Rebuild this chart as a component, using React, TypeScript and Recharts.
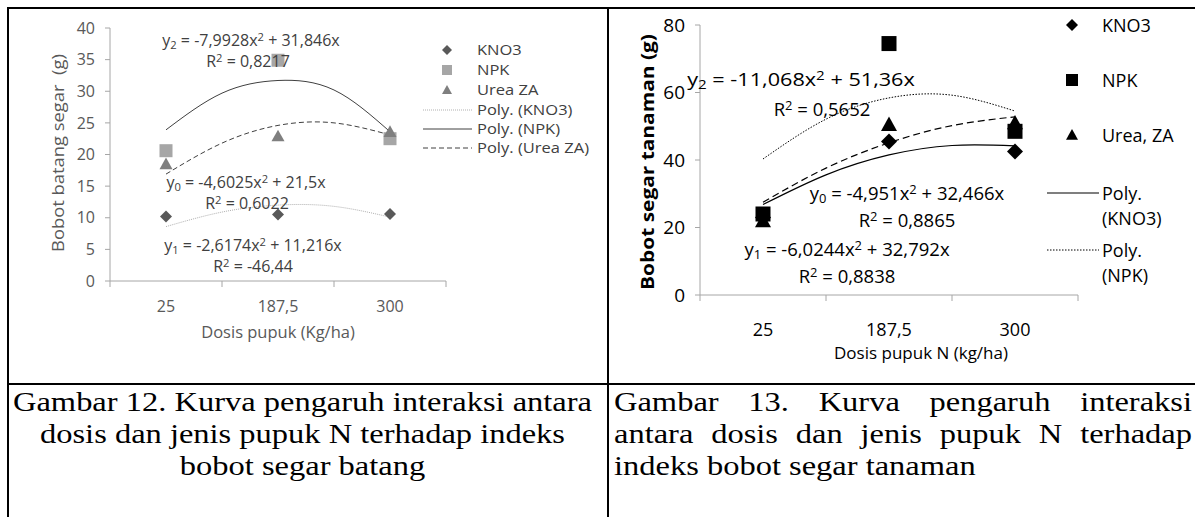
import React from 'react';
import { ComposedChart, Scatter, Line, XAxis, YAxis } from 'recharts';

// posisi kategori dosis (1..3) dan label sumbu X
const dosisPos = [1, 2, 3];
const dosisLabel = ['25', '187,5', '300'];
const trendPos = [1, 1.5, 2, 2.5, 3];

// Gambar 12 - bobot segar batang
const g12Kno3 = [10.2, 10.5, 10.6];
const g12Npk = [20.6, 34.9, 22.5];
const g12Urea = [18.5, 22.9, 23.6];
const g12Kno3Trend = [8.6, 10.9, 12.0, 11.8, 10.1];
const g12NpkTrend = [23.9, 29.7, 31.7, 30.2, 23.6];
const g12UreaTrend = [16.9, 21.8, 24.6, 25.0, 23.1];
const g12YTicks = [0, 5, 10, 15, 20, 25, 30, 35, 40];

// Gambar 13 - bobot segar tanaman
const g13Kno3 = [23, 45.5, 42.5];
const g13Npk = [24, 74.5, 48.5];
const g13Urea = [22, 50.5, 51];
const g13Kno3Trend = [26.8, 35.6, 41.5, 44.3, 44.2];
const g13NpkTrend = [40.3, 52.1, 58.4, 59.2, 54.5];
const g13UreaTrend = [27.5, 37.6, 45.1, 50.2, 52.8];
const g13YTicks = [0, 20, 40, 60, 80];

const xTicks = [0.5, 1, 1.5, 2, 2.5, 3, 3.5];

const pts = (vals: number[]) => vals.map((y, i) => ({ x: dosisPos[i], y }));
const trend = (vals: number[]) => vals.map((y, i) => ({ x: trendPos[i], y }));

const AXIS = '#a6a6a6';
const FONT = "'Open Sans', sans-serif";
const CAP_SX = 1.16;

const diamond = (r: number, fill: string) => (p: any) => (
  <polygon points={`${p.cx},${p.cy - r} ${p.cx + r},${p.cy} ${p.cx},${p.cy + r} ${p.cx - r},${p.cy}`} fill={fill} />
);
const square = (r: number, fill: string) => (p: any) => (
  <rect x={p.cx - r} y={p.cy - r} width={r * 2} height={r * 2} fill={fill} />
);
const triangle = (r: number, fill: string) => (p: any) => (
  <polygon points={`${p.cx},${p.cy - r} ${p.cx + r},${p.cy + r * 0.8} ${p.cx - r},${p.cy + r * 0.8}`} fill={fill} />
);

// label kategori di tengah, garis tick di antara kategori (gaya Excel)
const makeXTick = (size: number, color: string, dy: number) => (props: any) => {
  const { x, y, payload } = props;
  const v = payload.value;
  if (v % 1 !== 0) return <line x1={x} x2={x} y1={y} y2={y + 6} stroke={AXIS} />;
  return (
    <text x={x} y={y + dy} textAnchor="middle" fontSize={size} fill={color} fontFamily={FONT}>
      {dosisLabel[v - 1]}
    </text>
  );
};

function Txt({ x, y, size, children, anchor = 'middle', color = '#000', sx = 1 }: any) {
  return (
    <div
      style={{
        position: 'absolute',
        left: x,
        top: y - size * 0.52,
        transform: anchor === 'middle' ? `translateX(-50%) scaleX(${sx})` : `scaleX(${sx})`,
        transformOrigin: anchor === 'middle' ? 'center' : 'left center',
        fontSize: size,
        lineHeight: 1 + 'em',
        fontFamily: FONT,
        color,
        whiteSpace: 'nowrap',
      }}
    >
      {children}
    </div>
  );
}

function Legend({ items, x, size, sx = 1, color, lineX1, lineX2 }: any) {
  return (
    <>
      {items.map((it: any, i: number) => (
        <React.Fragment key={i}>
          <svg style={{ position: 'absolute', left: 0, top: 0, overflow: 'visible' }} width={1} height={1}>
            {it.kind === 'marker' ? it.shape({ cx: it.ix, cy: it.y }) : null}
            {it.kind === 'line' ? (
              <line x1={lineX1} x2={lineX2} y1={it.y} y2={it.y} stroke={it.stroke} strokeWidth={it.w || 1} strokeDasharray={it.dash} />
            ) : null}
          </svg>
          <Txt x={x} y={it.y} size={size} sx={sx} anchor="start" color={color}>{it.label}</Txt>
        </React.Fragment>
      ))}
    </>
  );
}

const sub = (d: string) => <sub style={{ fontSize: '0.7em', verticalAlign: '-0.25em', lineHeight: 0 }}>{d}</sub>;
const sup2 = <sup style={{ fontSize: '0.7em', verticalAlign: '0.45em', lineHeight: 0 }}>2</sup>;

// teks keterangan Times, sedikit melebar seperti di gambar asli
function CaptionLine({ text, x, w, top, align }: any) {
  return (
    <div
      style={{
        position: 'absolute',
        left: x,
        width: w / CAP_SX,
        top,
        fontFamily: "'Liberation Serif', serif",
        fontSize: 28,
        lineHeight: '34px',
        color: '#000',
        whiteSpace: 'nowrap',
        textAlign: align,
        textAlignLast: align,
        transform: `scaleX(${CAP_SX})`,
        transformOrigin: 'left top',
      }}
    >
      {text}
    </div>
  );
}

export default function App() {
  const leftColor = '#595959';
  const eqColor = '#404040';
  return (
    <div style={{ position: 'absolute', left: 0, top: 0, width: 1195, height: 517, background: '#fff', overflow: 'hidden' }}>
      {/* Gambar 12 */}
      <div style={{ position: 'absolute', left: 0, top: 0 }}>
        <ComposedChart width={605} height={384} margin={{ top: 28, right: 159, bottom: 73, left: 10 }}>
          <XAxis dataKey="x" type="number" domain={[0.5, 3.5]} ticks={xTicks} interval={0} tickSize={0} tickMargin={0}
            tickLine={false} axisLine={{ stroke: AXIS }} height={30} tick={makeXTick(16, leftColor, 31)} />
          <YAxis type="number" domain={[0, 40]} ticks={g12YTicks} interval={0} width={100} tickSize={5} tickMargin={10}
            tickLine={{ stroke: AXIS }} axisLine={{ stroke: AXIS }} tick={{ fontSize: 16, fill: leftColor, fontFamily: FONT }} />
          <Line data={trend(g12Kno3Trend)} dataKey="y" type="natural" stroke="#b0b0b0" strokeWidth={1} strokeDasharray="1 1" dot={false} isAnimationActive={false} />
          <Line data={trend(g12NpkTrend)} dataKey="y" type="natural" stroke="#404040" strokeWidth={1} dot={false} isAnimationActive={false} />
          <Line data={trend(g12UreaTrend)} dataKey="y" type="natural" stroke="#404040" strokeWidth={1} strokeDasharray="5 3" dot={false} isAnimationActive={false} />
          <Scatter data={pts(g12Kno3)} dataKey="y" shape={diamond(6, '#595959')} isAnimationActive={false} />
          <Scatter data={pts(g12Npk)} dataKey="y" shape={square(6.5, '#a6a6a6')} isAnimationActive={false} />
          <Scatter data={pts(g12Urea)} dataKey="y" shape={triangle(6.5, '#7f7f7f')} isAnimationActive={false} />
        </ComposedChart>
      </div>
      <div style={{ position: 'absolute', left: 57, top: 153, transform: 'translate(-50%, -50%) rotate(-90deg) scaleX(1.08)', fontSize: 17, fontFamily: FONT, color: leftColor, whiteSpace: 'pre' }}>
        Bobot batang segar  (g)
      </div>
      <Txt x={278} y={333} size={16.5} color={leftColor}>Dosis pupuk (Kg/ha)</Txt>
      <Txt x={251} y={40} size={16} color={eqColor}>y{sub('2')} = -7,9928x{sup2} + 31,846x</Txt>
      <Txt x={248} y={61} size={16} color={eqColor}>R{sup2} = 0,8217</Txt>
      <Txt x={246} y={182} size={16} color={eqColor}>y{sub('0')} = -4,6025x{sup2} + 21,5x</Txt>
      <Txt x={247} y={203} size={16} color={eqColor}>R{sup2} = 0,6022</Txt>
      <Txt x={253} y={245} size={16} color={eqColor}>y{sub('1')} = -2,6174x{sup2} + 11,216x</Txt>
      <Txt x={253} y={266} size={16} color={eqColor}>R{sup2} = -46,44</Txt>
      <Legend x={477} size={15} sx={1.1} color={eqColor} lineX1={423} lineX2={472}
        items={[
          { kind: 'marker', label: 'KNO3', y: 50, ix: 447, shape: diamond(5, '#595959') },
          { kind: 'marker', label: 'NPK', y: 70, ix: 447, shape: square(5, '#a6a6a6') },
          { kind: 'marker', label: 'Urea ZA', y: 90, ix: 447, shape: triangle(5, '#7f7f7f') },
          { kind: 'line', label: 'Poly. (KNO3)', y: 110, stroke: '#b0b0b0', dash: '1 1' },
          { kind: 'line', label: 'Poly. (NPK)', y: 129, stroke: '#404040' },
          { kind: 'line', label: 'Poly. (Urea ZA)', y: 148, stroke: '#404040', dash: '5 3' },
        ]} />

      {/* Gambar 13 */}
      <div style={{ position: 'absolute', left: 609, top: 0 }}>
        <ComposedChart width={586} height={384} margin={{ top: 25, right: 117, bottom: 59, left: 11 }}>
          <XAxis dataKey="x" type="number" domain={[0.5, 3.5]} ticks={xTicks} interval={0} tickSize={0} tickMargin={0}
            tickLine={false} axisLine={{ stroke: AXIS }} height={30} tick={makeXTick(18, '#000', 41)} />
          <YAxis type="number" domain={[0, 80]} ticks={g13YTicks} interval={0} width={80} tickSize={5} tickMargin={10}
            tickLine={{ stroke: AXIS }} axisLine={{ stroke: AXIS }} tick={{ fontSize: 19, fill: '#000', fontFamily: FONT }} />
          <Line data={trend(g13NpkTrend)} dataKey="y" type="natural" stroke="#000" strokeWidth={1} strokeDasharray="1.5 1.5" dot={false} isAnimationActive={false} />
          <Line data={trend(g13Kno3Trend)} dataKey="y" type="natural" stroke="#000" strokeWidth={1.2} dot={false} isAnimationActive={false} />
          <Line data={trend(g13UreaTrend)} dataKey="y" type="natural" stroke="#000" strokeWidth={1.2} strokeDasharray="7 4" dot={false} isAnimationActive={false} />
          <Scatter data={pts(g13Npk)} dataKey="y" shape={square(7.5, '#000')} isAnimationActive={false} />
          <Scatter data={pts(g13Urea)} dataKey="y" shape={triangle(8, '#000')} isAnimationActive={false} />
          <Scatter data={pts(g13Kno3)} dataKey="y" shape={diamond(8, '#000')} isAnimationActive={false} />
        </ComposedChart>
      </div>
      <div style={{ position: 'absolute', left: 647, top: 162, transform: 'translate(-50%, -50%) rotate(-90deg) scaleX(1.16)', fontSize: 18, fontWeight: 700, fontFamily: FONT, color: '#000', whiteSpace: 'nowrap' }}>
        Bobot segar tanaman (g)
      </div>
      <Txt x={921} y={353} size={17}>Dosis pupuk N (kg/ha)</Txt>
      <Txt x={801} y={80} size={18.5} sx={1.17}>y{sub('2')} = -11,068x{sup2} + 51,36x</Txt>
      <Txt x={822} y={110} size={18.5}>R{sup2} = 0,5652</Txt>
      <Txt x={907} y={194} size={18.5}>y{sub('0')} = -4,951x{sup2} + 32,466x</Txt>
      <Txt x={907} y={221} size={18.5}>R{sup2} = 0,8865</Txt>
      <Txt x={847} y={250} size={18.5}>y{sub('1')} = -6,0244x{sup2} + 32,792x</Txt>
      <Txt x={847} y={277} size={18.5}>R{sup2} = 0,8838</Txt>
      <Legend x={1102} size={18} color="#000" lineX1={1047} lineX2={1099}
        items={[
          { kind: 'marker', label: 'KNO3', y: 25, ix: 1072, shape: diamond(6, '#000') },
          { kind: 'marker', label: 'NPK', y: 80, ix: 1072, shape: square(6, '#000') },
          { kind: 'marker', label: 'Urea, ZA', y: 135, ix: 1072, shape: triangle(6, '#000') },
          { kind: 'line', label: 'Poly.', y: 193, stroke: '#000', w: 1.2 },
          { kind: 'none', label: '(KNO3)', y: 218 },
          { kind: 'line', label: 'Poly.', y: 250, stroke: '#000', dash: '1.5 1.5' },
          { kind: 'none', label: '(NPK)', y: 275 },
        ]} />

      {/* garis tabel */}
      <div style={{ position: 'absolute', left: 7, top: 7, width: 1188, height: 2, background: '#000' }} />
      <div style={{ position: 'absolute', left: 7, top: 7, width: 2, height: 510, background: '#000' }} />
      <div style={{ position: 'absolute', left: 607, top: 7, width: 2, height: 510, background: '#000' }} />
      <div style={{ position: 'absolute', left: 7, top: 383, width: 1188, height: 2, background: '#000' }} />

      {/* keterangan gambar */}
      <CaptionLine x={12} w={581} top={385} align="center" text="Gambar 12. Kurva pengaruh interaksi antara" />
      <CaptionLine x={12} w={581} top={417} align="center" text="dosis dan jenis pupuk N terhadap indeks" />
      <CaptionLine x={12} w={581} top={449} align="center" text="bobot segar batang" />
      <CaptionLine x={614} w={578} top={385} align="justify" text="Gambar 13. Kurva pengaruh interaksi" />
      <CaptionLine x={614} w={578} top={417} align="justify" text="antara dosis dan jenis pupuk N terhadap" />
      <CaptionLine x={614} w={578} top={449} align="left" text="indeks bobot segar tanaman" />
    </div>
  );
}
